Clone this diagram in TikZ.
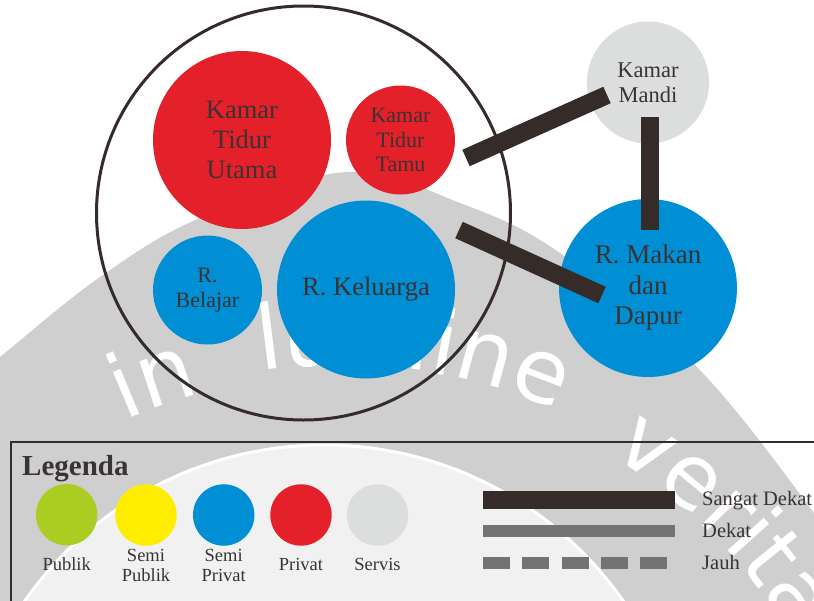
\documentclass[tikz,border=0pt]{standalone}
\usepackage{fontspec}
\setmainfont{Liberation Serif}
\newfontfamily\wmfamily{DejaVu Sans}
\usetikzlibrary{decorations.text}

\definecolor{ink}{HTML}{352C2A}
\definecolor{txt}{HTML}{3A3332}
\definecolor{privred}{HTML}{E4202B}
\definecolor{semiblue}{HTML}{008FD5}
\definecolor{publgreen}{HTML}{ABCD21}
\definecolor{semiyellow}{HTML}{FFED00}
\definecolor{servgray}{HTML}{DCDDDD}
\definecolor{neargray}{HTML}{737373}
\definecolor{wmgray}{HTML}{CFCFCF}
\definecolor{wmlight}{HTML}{F1F1F1}

\newcommand\wmtext{\fontsize{89}{89}\selectfont\wmfamily}

\begin{document}
\begin{tikzpicture}[x=1pt,y=-1pt,
  room/.style={circle, inner sep=0pt, text=txt, align=center},
  bigfont/.style={font=\fontsize{26.5}{30}\selectfont},
  midfont/.style={font=\fontsize{22}{24.5}\selectfont},
  keydot/.style={circle, inner sep=0pt, minimum size=61.4pt},
  keylabel/.style={text=txt, align=center, inner sep=0pt, font=\fontsize{18.5}{20}\selectfont},
  linelabel/.style={text=txt, anchor=base west, inner sep=0pt, font=\fontsize{20.5}{22}\selectfont},
  bar/.style={draw=ink, line width=18pt},
  wmword/.style={decorate, decoration={text along path, text color=white,
      text format delimiters={|}{|}, text={|\wmtext|#1}}}
]
\useasboundingbox (0,0) rectangle (814,600);
\clip (0,0) rectangle (814,600);
\fill[white] (0,0) rectangle (814,600);

% background seal
\fill[wmgray] plot[smooth, tension=0.6] coordinates {(-40,390) (0,357) (100,277) (200,218) (347,172) (460,203) (560,253) (697,367) (814,513) (850,570)} -- (850,640) -- (-40,640) -- cycle;
\filldraw[fill=wmlight, draw=white, line width=3pt] (324,810) circle[radius=365];
\path[wmword={in}] (340,905) ++(-114:530) arc[start angle=-114, end angle=-100, radius=530];
\path[wmword={lumine}] (340,905) ++(-98.5:540) arc[start angle=-98.5, end angle=-60, radius=540];
\path[wmword={veritas}] (340,905) ++(-59:525) arc[start angle=-59, end angle=0, radius=525];

% zone outline
\node[circle, draw=ink, line width=3pt, minimum size=414pt, inner sep=0pt] (zone) at (303.5,213) {};

% rooms
\node[room, fill=privred, minimum size=178pt, bigfont] (ktu) at (242,140) {Kamar\\Tidur\\Utama};
\node[room, fill=privred, minimum size=109pt, midfont] (ktt) at (400.5,140) {Kamar\\Tidur\\Tamu};
\node[room, fill=semiblue, minimum size=109pt, font=\fontsize{22}{25}\selectfont] (rb) at (207.5,290) {R.\\Belajar};
\node[room, fill=semiblue, minimum size=178pt, bigfont] (rk) at (366,289.5) {R. Keluarga};
\node[room, fill=servgray, minimum size=122pt, font=\fontsize{22.5}{25}\selectfont] (km) at (648,82.5) {Kamar\\Mandi};
\node[room, fill=semiblue, minimum size=178pt, font=\fontsize{27}{30.5}\selectfont] (rmd) at (648,288) {R. Makan\\dan\\Dapur};

% relations
\coordinate (b1a) at (466,158);
\coordinate (b1b) at (607,95);
\coordinate (b2a) at (459,230);
\coordinate (b2b) at (602,295);
\coordinate (b3a) at (649.5,117);
\coordinate (b3b) at (649.5,230);
\draw[bar] (b1a) -- (b1b);
\draw[bar] (b2a) -- (b2b);
\draw[bar] (b3a) -- (b3b);

% legend
\draw[draw=ink, line width=2pt] (11,442) rectangle (840,640);
\node[anchor=base west, inner sep=0pt, text=txt, font=\fontsize{29}{30}\selectfont\bfseries] (legtitle) at (22,475) {Legenda};

\node[keydot, fill=publgreen] (kpub) at (66.7,514.7) {};
\node[keydot, fill=semiyellow] (ksp) at (146,515) {};
\node[keydot, fill=semiblue] (kspr) at (223.7,515) {};
\node[keydot, fill=privred] (kpr) at (301,515) {};
\node[keydot, fill=servgray] (ksv) at (377.5,515) {};

\node[keylabel, anchor=base] (lpub) at (66.7,570) {Publik};
\node[keylabel] (lsp) at (146,565) {Semi\\Publik};
\node[keylabel] (lspr) at (223.7,565) {Semi\\Privat};
\node[keylabel, anchor=base] (lpr) at (301,570) {Privat};
\node[keylabel, anchor=base] (lsv) at (377.5,570) {Servis};

\coordinate (sda) at (483,500);
\coordinate (sdb) at (675,500);
\coordinate (dka) at (483,531);
\coordinate (dkb) at (675,531);
\coordinate (jha) at (483,563);
\coordinate (jhb) at (668,563);
\draw[draw=ink, line width=18pt] (sda) -- (sdb);
\draw[draw=neargray, line width=12pt] (dka) -- (dkb);
\draw[draw=neargray, line width=12pt, dash pattern=on 27pt off 12.25pt] (jha) -- (jhb);
\node[linelabel] (lsd) at (702,505) {Sangat Dekat};
\node[linelabel] (ldk) at (702,537) {Dekat};
\node[linelabel] (ljh) at (702,569) {Jauh};
\end{tikzpicture}
\end{document}
